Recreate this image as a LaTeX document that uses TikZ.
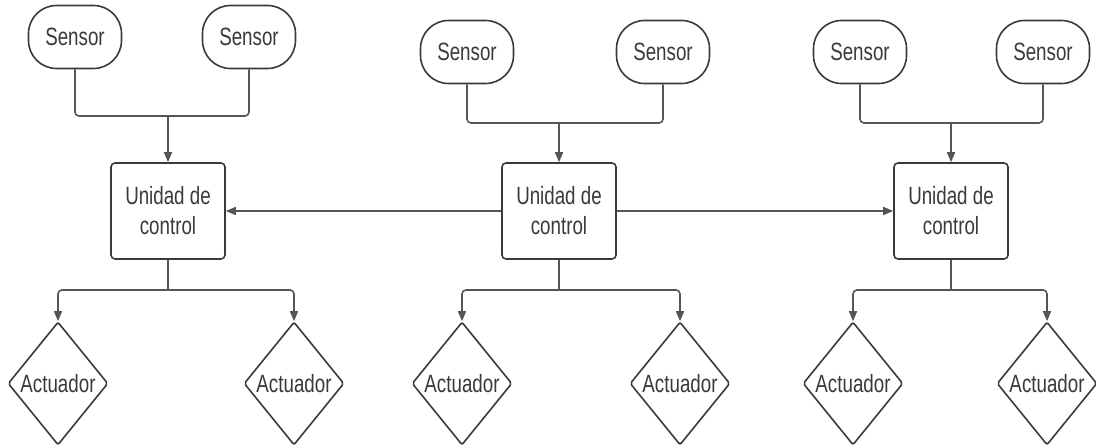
\documentclass[tikz,border=0pt]{standalone}
\usepackage{fontspec}
\setmainfont{Liberation Sans}[FakeStretch=0.75]
\usetikzlibrary{shapes.geometric,arrows.meta}
\definecolor{linegray}{HTML}{555555}
\definecolor{shapegray}{HTML}{3A3A3A}
\tikzset{
  sensor/.style={draw=shapegray, line width=0.8pt, rounded corners=14pt, minimum width=46.5pt, minimum height=31.5pt, inner sep=0pt, text=shapegray, font=\fontsize{12.5}{15}\selectfont},
  control/.style={draw=shapegray, line width=0.8pt, rounded corners=2pt, minimum width=57pt, minimum height=48pt, inner sep=0pt, align=center, text=shapegray, font=\fontsize{12.5}{15}\selectfont},
  actuator/.style={diamond, draw=shapegray, line width=0.8pt, rounded corners=1pt, aspect=0.8, minimum width=50pt, minimum height=61.5pt, inner sep=0pt, text=shapegray, font=\fontsize{12.5}{15}\selectfont},
  wire/.style={draw=linegray, line width=0.8pt, rounded corners=2pt},
  link/.style={wire, -{Triangle[length=5pt,width=4pt]}},
}
\begin{document}
\begin{tikzpicture}[x=0.5pt, y=-0.5pt]
\useasboundingbox (0,0) rectangle (1096,448);
% three groups: sensors, control unit, actuators
\foreach \g/\cx/\sy/\jy/\sl/\sr/\dl/\dr in {1/168/37/116/75/249/58/294, 2/559/52/123/467/663/462/680, 3/951/52/123/860/1043/853/1047}{
  \node[sensor] (sensorL\g) at (\sl,\sy) {Sensor};
  \node[sensor] (sensorR\g) at (\sr,\sy) {Sensor};
  \node[control] (ctrl\g) at (\cx,211) {Unidad de\\control};
  \node[actuator] (actL\g) at (\dl,383.5) {Actuador};
  \node[actuator] (actR\g) at (\dr,383.5) {Actuador};
  \coordinate (join\g) at (\cx,\jy);
  \coordinate (split\g) at (\cx,290);
  % sensors into the control unit
  \draw[wire] (sensorL\g.south) |- (join\g);
  \draw[wire] (sensorR\g.south) |- (join\g);
  \draw[link] (join\g) -- (ctrl\g.north);
  % control unit out to the actuators
  \draw[wire] (ctrl\g.south) -- (split\g);
  \draw[link] (split\g) -| (actL\g.north);
  \draw[link] (split\g) -| (actR\g.north);
}
% the middle unit talks to both sides
\draw[link] (ctrl2.west) -- (ctrl1.east);
\draw[link] (ctrl2.east) -- (ctrl3.west);
\end{tikzpicture}
\end{document}
